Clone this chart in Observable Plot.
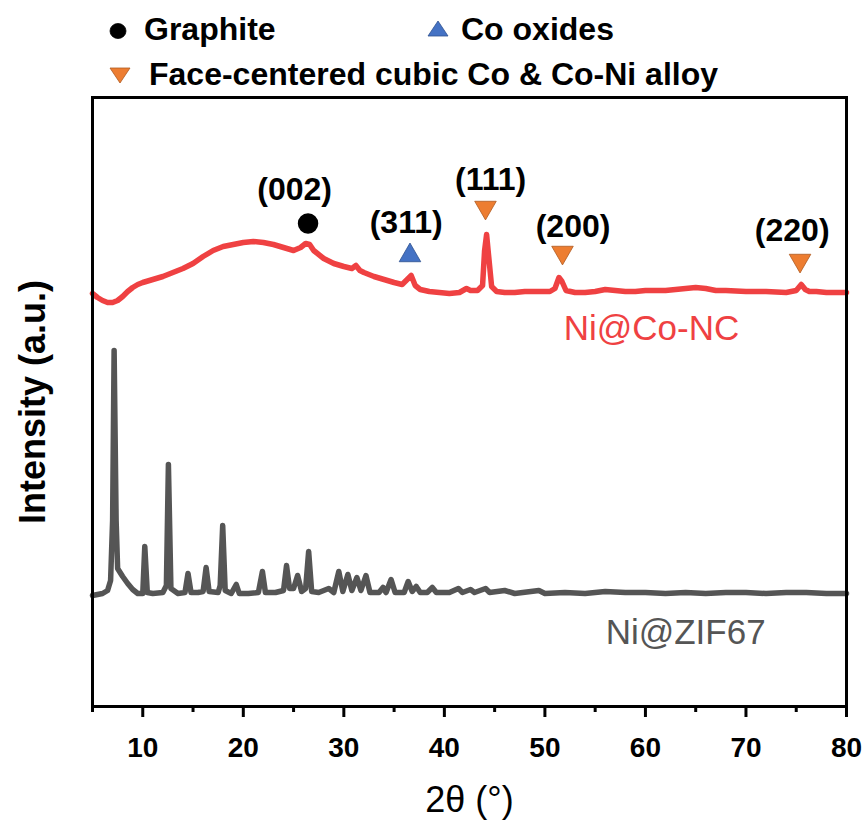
<!DOCTYPE html>
<html><head><meta charset="utf-8">
<script src="https://cdn.jsdelivr.net/npm/d3@7"></script>
<script src="https://cdn.jsdelivr.net/npm/@observablehq/plot@0.6"></script>
<style>
body{margin:0;background:#fff;font-family:"Liberation Sans",Arial,sans-serif;}
#wrap{width:867px;position:relative;}
#legend{position:relative;height:92px;width:867px;}
.ltext{position:absolute;font-weight:bold;font-size:32px;line-height:1;white-space:nowrap;color:#000;}
.lsym{position:absolute;}
</style></head><body>
<div id="wrap"><div id="legend"></div><div id="chart"></div></div>
<script>
// ---- data (2θ in degrees, intensity in arbitrary units) ----
const angleCoNC = [5.0,5.5,6.0,6.5,7.0,7.5,8.0,8.5,9.0,9.5,10,11,12,13,14,15,16,17,18,19,20,21,22,23,24,25,25.7,26.2,26.6,27.0,28,29,30,30.8,31.2,31.6,32,33,34,35,35.8,36.3,36.7,37.1,37.6,38.5,39.5,40.5,41.5,42.2,42.6,43.3,43.8,44.0,44.2,44.4,44.7,45.2,46,47,48,49,50.5,51.0,51.4,51.7,52.1,53,54,55,56,57,58,59,60,62,63,64,65,66,67,68,70,72,74,75.0,75.5,75.9,76.3,77,78,80];
const intensityCoNC = [413,409,406,404,404,406,410,415,419,422,424,427,430,434,438,443,450,456,460,462,464,465,464,462,459,456,459,463,462,456,448,443,440,438,441,436,434,430,427,424,422,427,431,421,417,415,414,413,414,418,416,416,421,456,472,451,420,415,414,414,415,415,415,418,429,425,416,414,414,415,417,416,415,415,416,416,417,418,419,418,416,416,415,415,414,416,422,417,415,415,414,414];

const angleZIF67 = [5.0,5.5,6.0,6.5,6.8,7.0,7.15,7.35,7.5,8.0,8.5,9.0,9.5,10.0,10.2,10.45,11,12.0,12.35,12.55,12.8,13.5,14.2,14.5,14.8,15.5,16.0,16.3,16.6,17.5,17.7,17.95,18.2,18.8,19.3,19.6,20.5,21.5,21.9,22.2,23.2,24.0,24.3,24.6,25.0,25.4,25.8,26.2,26.5,26.8,27.5,28.5,29.0,29.5,29.9,30.4,30.8,31.3,31.7,32.2,32.6,33.5,33.9,34.2,34.7,35.1,36.0,36.4,36.8,37.2,37.6,38.3,38.8,39.2,40.5,41.4,41.8,42.6,43.0,44.1,44.5,46.0,47,49.4,50,52,54,56,58,60,62,64,66,68,70,72,74,76,78,80];
const intensityZIF67 = [111,112,113,116,126,186,356,186,138,130,123,117,113,113,160,114,113,114,121,242,118,113,114,133,114,114,115,139,115,114,121,181,116,113,122,113,113,114,135,114,114,116,141,118,118,131,115,118,155,115,114,118,114,135,115,132,116,129,116,131,114,114,119,114,127,114,114,125,115,120,114,114,119,114,114,118,114,117,114,118,114,116,113,116,113,114,113,115,114,114,113,114,113,114,114,113,114,114,113,113];

const seriesNames = ["Ni@Co-NC","Ni@ZIF67"];
const seriesColors = ["#ef4142","#555555"];
const seriesLabelX = [60.6,64.0];
const seriesLabelY = [378,74];

const peakLabels = ["(002)","(311)","(111)","(200)","(220)"];
const peakLabelX = [25.1,36.2,44.6,52.8,74.6];
const peakLabelY = [517,484,527,480,476];
const markerX = [26.44,36.58,44.09,51.75,75.38];
const markerY = [483,451,499,454,446];
const markerPhase = ["Graphite","Co oxides","Face-centered cubic Co & Co-Ni alloy","Face-centered cubic Co & Co-Ni alloy","Face-centered cubic Co & Co-Ni alloy"];

const legendLabels = ["Graphite","Co oxides","Face-centered cubic Co & Co-Ni alloy"];
const legendColors = ["#000000","#4472c4","#ed7d31"];
const legendStrokes = ["#000000","#2f528f","#ae5a21"];

const xMajorTicks = [10,20,30,40,50,60,70,80];
const xMinorTicks = [5,15,25,35,45,55,65,75];

// ---- build tables ----
const coNC = angleCoNC.map((a,i)=>({angle:a,intensity:intensityCoNC[i]}));
const zif = angleZIF67.map((a,i)=>({angle:a,intensity:intensityZIF67[i]}));
const markers = markerX.map((x,i)=>({x, y:markerY[i], phase:markerPhase[i]}));
const peaks = peakLabels.map((t,i)=>({t, x:peakLabelX[i], y:peakLabelY[i]}));
const seriesLbl = seriesNames.map((n,i)=>({n, x:seriesLabelX[i], y:seriesLabelY[i], c:seriesColors[i]}));

// ---- legend (HTML above the SVG) ----
const legendLayout = [
  {sx:118, sy:31, tx:144, ty:13, shape:"circle"},
  {sx:438, sy:29, tx:461, ty:13, shape:"up"},
  {sx:120, sy:75, tx:149, ty:58, shape:"down"}
];
const legend = document.getElementById("legend");
legendLabels.forEach((lab,i)=>{
  const L = legendLayout[i];
  const ns = "http://www.w3.org/2000/svg";
  const s = document.createElementNS(ns,"svg");
  s.setAttribute("width",24); s.setAttribute("height",24);
  s.setAttribute("class","lsym");
  s.style.left = (L.sx-12)+"px"; s.style.top = (L.sy-12)+"px";
  let el;
  if (L.shape==="circle") { el = document.createElementNS(ns,"ellipse"); el.setAttribute("cx",12); el.setAttribute("cy",12); el.setAttribute("rx",8); el.setAttribute("ry",7.5); }
  else { el = document.createElementNS(ns,"polygon");
    el.setAttribute("points", L.shape==="up" ? "2,19 22,19 12,4" : "2,5 22,5 12,20"); }
  el.setAttribute("fill",legendColors[i]); el.setAttribute("stroke",legendStrokes[i]); el.setAttribute("stroke-width",0.8);
  s.appendChild(el); legend.appendChild(s);
  const t = document.createElement("div");
  t.className = "ltext"; t.textContent = lab;
  t.style.left = L.tx+"px"; t.style.top = L.ty+"px";
  legend.appendChild(t);
});

// ---- chart ----
const chart = Plot.plot({
  width: 867, height: 736,
  marginTop: 5, marginBottom: 122, marginLeft: 92, marginRight: 21,
  style: {fontFamily: "'Liberation Sans', Arial, sans-serif", fontSize: "28px", fontWeight: "bold", background: "white", color: "black", overflow: "visible"},
  x: {domain: [5, 80]},
  y: {domain: [0, 609], axis: null},
  symbol: {domain: legendLabels, range: ["circle","triangle","triangle"]},
  marks: [
    Plot.line(coNC, {x:"angle", y:"intensity", stroke: seriesColors[0], strokeWidth: 5.5, curve: "linear"}),
    Plot.line(zif, {x:"angle", y:"intensity", stroke: seriesColors[1], strokeWidth: 5.5, curve: "linear"}),
    Plot.frame({stroke: "black", strokeWidth: 3}),
    Plot.axisX({ticks: xMajorTicks, tickSize: 11, tickPadding: 20, strokeWidth: 3, label: null, tickFormat: d => String(d), fontSize: 28}),
    Plot.axisX({ticks: xMinorTicks, tickSize: 6, strokeWidth: 3, label: null, tickFormat: () => ""}),
    Plot.text(["Intensity (a.u.)"], {frameAnchor: "left", dx: -59, rotate: -90, textAnchor: "middle", lineAnchor: "middle", fontSize: 36, fontWeight: "bold"}),
    Plot.text(["2θ (°)"], {frameAnchor: "bottom", dy: 94, lineAnchor: "middle", fontSize: 36, fontWeight: "normal"}),
    Plot.dot(markers.filter(d=>d.phase==="Graphite"), {x:"x", y:"y", r: 9.5, fill: legendColors[0], stroke: legendStrokes[0]}),
    Plot.dot(markers.filter(d=>d.phase==="Co oxides"), {x:"x", y:"y", symbol: "phase", r: 8, fill: legendColors[1], stroke: legendStrokes[1], strokeWidth: 0.8}),
    Plot.dot(markers.filter(d=>d.phase===legendLabels[2]), {x:"x", y:"y", symbol: "phase", r: 8, rotate: 180, fill: legendColors[2], stroke: legendStrokes[2], strokeWidth: 0.8}),
    Plot.text(peaks, {x:"x", y:"y", text:"t", fontSize: 32, fontWeight: "bold", fill: "black"}),
    Plot.text(seriesLbl, {x:"x", y:"y", text:"n", fill:"c", fontSize: 35, fontWeight: "normal"})
  ]
});
document.getElementById("chart").appendChild(chart);
</script>
</body></html>
